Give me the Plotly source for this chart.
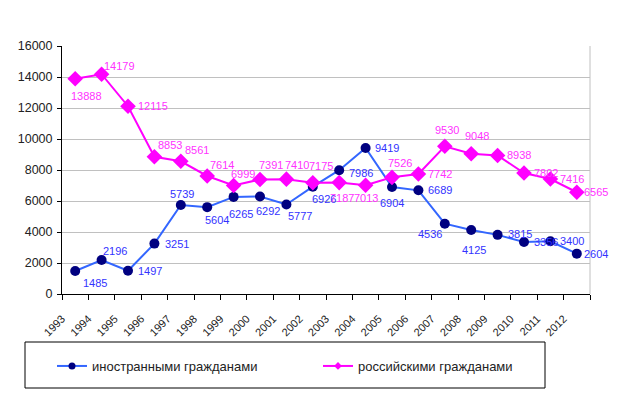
import plotly.graph_objects as go

years = list(range(1993, 2013))
foreign = [1485, 2196, 1497, 3251, 5739, 5604, 6265, 6292, 5777, 6926,
           7986, 9419, 6904, 6689, 4536, 4125, 3815, 3356, 3400, 2604]
russian = [13888, 14179, 12115, 8853, 8561, 7614, 6999, 7391, 7410, 7175,
           7187, 7013, 7526, 7742, 9530, 9048, 8938, 7802, 7416, 6565]
name_foreign = "иностранными гражданами"
name_russian = "российскими гражданами"

# label offsets in pixels (dx right, dy down) from each point, as in the reference
off_foreign = [(20, 12), (13, -9), (22, 0), (23, 0), (1, -11), (10, 13), (7, 17), (8, 15),
               (14, 12), (11, 12), (22, 3), (21, 0), (0, 16), (22, 0), (-15, 10), (3, 20),
               (22, -1), (22, 0), (22, 0), (19, 0)]
off_russian = [(11, 17), (18, -8), (25, 0), (16, -12), (16, -11), (15, -11), (9, -12),
               (11, -14), (11, -14), (8, -17), (3, 15), (0, 13), (8, -14), (22, 0),
               (2, -16), (6, -18), (21, 0), (22, 0), (22, 0), (19, 0)]

FONT = "Liberation Sans, Arial, sans-serif"
BLUE_LINE, BLUE_MARK, BLUE_TEXT = "#3366FF", "#000080", "#3333FF"
PINK_LINE, PINK_TEXT = "#FF00FF", "#FF33FF"

fig = go.Figure()
fig.add_trace(go.Scatter(
    x=years, y=foreign, name=name_foreign, mode="lines+markers", showlegend=False,
    line=dict(color=BLUE_LINE, width=2),
    marker=dict(symbol="circle", size=10, color=BLUE_MARK),
    cliponaxis=False,
))
fig.add_trace(go.Scatter(
    x=years, y=russian, name=name_russian, mode="lines+markers", showlegend=False,
    line=dict(color=PINK_LINE, width=2),
    marker=dict(symbol="diamond", size=12, color=PINK_LINE),
    cliponaxis=False,
))
# legend entries with the small markers used in the reference legend
fig.add_trace(go.Scatter(
    x=[None], y=[None], name=name_foreign, mode="lines+markers",
    line=dict(color=BLUE_LINE, width=2),
    marker=dict(symbol="circle", size=7, color=BLUE_MARK),
))
fig.add_trace(go.Scatter(
    x=[None], y=[None], name=name_russian, mode="lines+markers",
    line=dict(color=PINK_LINE, width=2),
    marker=dict(symbol="diamond", size=6, color=PINK_LINE),
))

annotations = []
for xs, ys, offs, col in ((years, foreign, off_foreign, BLUE_TEXT),
                          (years, russian, off_russian, PINK_TEXT)):
    for xv, yv, (dx, dy) in zip(xs, ys, offs):
        annotations.append(dict(
            x=xv, y=yv, xref="x", yref="y", text=str(yv), showarrow=False,
            xanchor="center", yanchor="middle", xshift=dx, yshift=-dy,
            font=dict(family=FONT, size=11, color=col),
        ))

fig.update_layout(
    width=617, height=394,
    margin=dict(l=62, r=27, t=46, b=100),
    paper_bgcolor="white", plot_bgcolor="white",
    font=dict(family=FONT, size=12, color="#222222"),
    showlegend=True,
    annotations=annotations,
    legend=dict(orientation="h", x=(52 - 62) / 528, xanchor="left",
                y=(294 - 366) / 248, yanchor="middle",
                entrywidth=221, entrywidthmode="pixels",
                font=dict(family=FONT, size=13, color="#222222"),
                bgcolor="rgba(0,0,0,0)"),
    shapes=[
        dict(type="rect", xref="paper", yref="paper",
             x0=(25 - 62) / 528, x1=(545 - 62) / 528,
             y0=(294 - 388) / 248, y1=(294 - 342) / 248,
             line=dict(color="black", width=1)),
        dict(type="line", xref="paper", yref="paper", x0=1, x1=1, y0=0, y1=1,
             line=dict(color="#C0C0C0", width=1)),
    ],
)
fig.update_xaxes(
    range=[years[0] - 0.5, years[-1] + 0.5],
    tickmode="array",
    tickvals=[y - 0.5 for y in years] + [years[-1] + 0.5],
    ticktext=[str(y) for y in years] + [""],
    ticks="outside", ticklen=5, tickcolor="black",
    showline=True, linecolor="black", linewidth=1, showgrid=False, zeroline=False,
    tickangle=-45, automargin=False, ticklabelstandoff=8,
    tickfont=dict(family=FONT, size=11, color="#222222"),
)
fig.update_yaxes(
    range=[0, 16000], dtick=2000, tickformat="d", ticks="outside", ticklen=4,
    tickcolor="black", showline=True, linecolor="black", linewidth=1,
    showgrid=True, gridcolor="#C0C0C0", gridwidth=1, zeroline=False, automargin=False,
    ticklabelstandoff=2,
    tickfont=dict(family=FONT, size=12.5, color="#222222"),
)

fig.write_html("out.html", config={"displayModeBar": False},
               post_script="document.body.style.margin='0';")
